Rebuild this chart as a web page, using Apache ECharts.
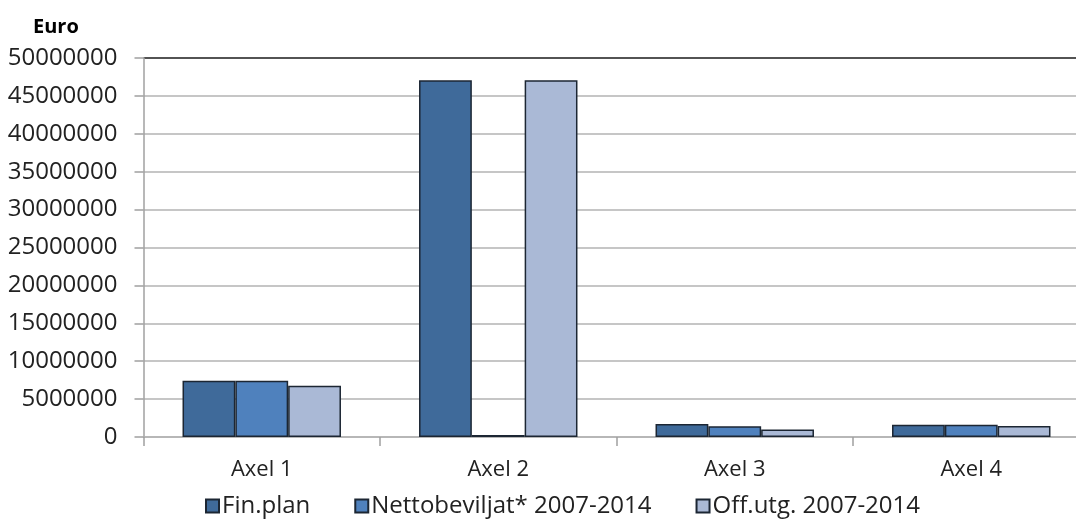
<!DOCTYPE html>
<html>
<head>
<meta charset="utf-8">
<script src="https://cdn.jsdelivr.net/npm/echarts@6/dist/echarts.min.js"></script>
<style>
html,body{margin:0;padding:0;background:#fff;}
#c{width:1076px;height:520px;}
</style>
</head>
<body>
<div id="c"></div>
<script>
const categories = ['Axel 1', 'Axel 2', 'Axel 3', 'Axel 4'];
const seriesNames = ['Fin.plan', 'Nettobeviljat* 2007-2014', 'Off.utg. 2007-2014'];
const finPlan = [7430000, 47060000, 1710000, 1620000];
const nettobeviljat = [7430000, 250000, 1410000, 1620000];
const offUtg = [6770000, 47050000, 1000000, 1450000];
const yTicks = [0, 50000000, 5000000];

const colors = ['#3F6A9A', '#4F81BD', '#AAB9D6'];
const values = [finPlan, nettobeviljat, offUtg];
const font = '"Open Sans", "Noto Sans", sans-serif';

const gridColors = [];
for (let i = 0; i < 10; i++) gridColors.push('#b3b3b3');
gridColors.push('#1a1a1a');

const chart = echarts.init(document.getElementById('c'), null, {renderer: 'canvas'});
chart.setOption({
  animation: false,
  backgroundColor: '#ffffff',
  title: {
    text: 'Euro',
    left: 28,
    top: 12,
    textStyle: {fontFamily: font, fontSize: 20, fontWeight: 'bold', color: '#000'}
  },
  legend: {
    left: 200,
    top: 489,
    icon: 'rect',
    itemWidth: 13,
    itemHeight: 13,
    itemGap: 44,
    textStyle: {fontFamily: font, fontSize: 24, color: '#222', padding: [0, 0, 0, -2]},
    data: seriesNames
  },
  grid: {left: 143.5, width: 946, top: 58, bottom: 83, containLabel: false, outerBoundsMode: 'none'},
  xAxis: {
    type: 'category',
    data: categories,
    axisLine: {show: true, lineStyle: {color: '#b3b3b3', width: 1.5}},
    axisTick: {show: true, alignWithLabel: false, length: 9, lineStyle: {color: '#a0a0a0', width: 1.5}},
    axisLabel: {fontFamily: font, fontSize: 22, color: '#222', margin: 22},
    splitLine: {show: false}
  },
  yAxis: {
    type: 'value',
    min: yTicks[0],
    max: yTicks[1],
    interval: yTicks[2],
    axisLine: {show: true, lineStyle: {color: '#a0a0a0', width: 1.5}},
    axisTick: {show: true, length: 9, lineStyle: {color: '#a0a0a0', width: 1.5}},
    axisLabel: {fontFamily: font, fontSize: 24, color: '#222', margin: 26, formatter: v => String(v)},
    splitLine: {show: true, lineStyle: {color: gridColors, width: 1.5}}
  },
  series: seriesNames.map((n, i) => ({
    name: n,
    type: 'bar',
    data: values[i],
    barGap: '0%',
    barCategoryGap: '33%',
    itemStyle: {color: colors[i], borderColor: '#1c2633', borderWidth: 1.5}
  }))
});
</script>
</body>
</html>
